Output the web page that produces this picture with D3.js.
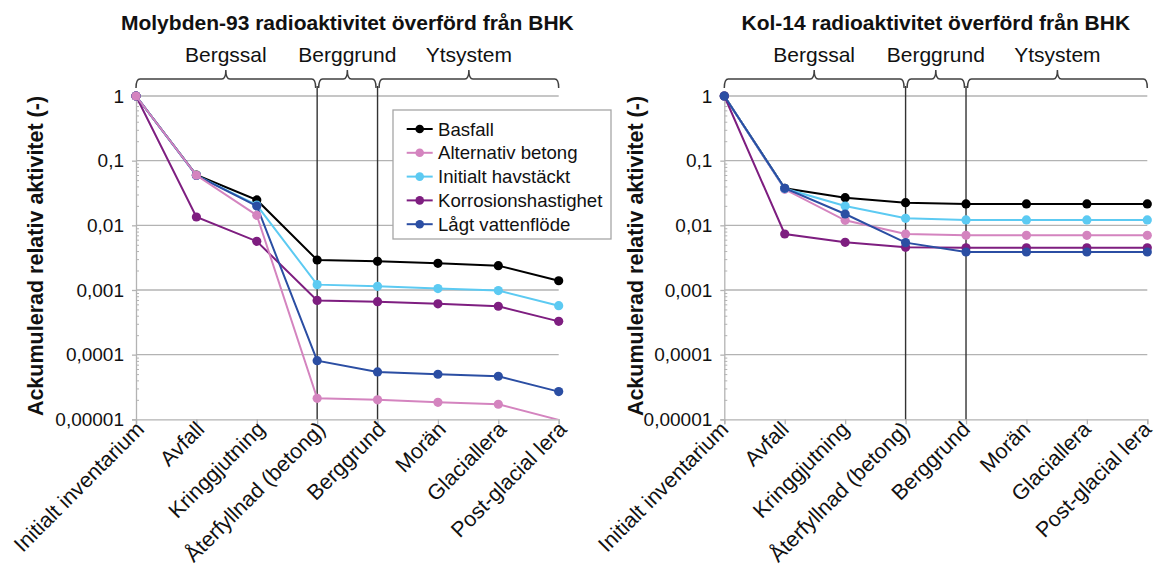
<!DOCTYPE html>
<html>
<head>
<meta charset="utf-8">
<script src="https://cdn.jsdelivr.net/npm/d3@7"></script>
<style>
  html, body { margin: 0; padding: 0; background: #fff; }
  svg { display: block; font-family: "Liberation Sans", Arial, sans-serif; }
</style>
</head>
<body>
<svg id="chart" width="1157" height="567"></svg>
<script>
// ---------------- DATA ----------------
const categories = ["Initialt inventarium", "Avfall", "Kringgjutning", "Återfyllnad (betong)",
                    "Berggrund", "Morän", "Glaciallera", "Post-glacial lera"];
const groupNames = ["Bergssal", "Berggrund", "Ytsystem"];
const groupStart = [0, 3, 4];
const groupEnd = [3, 4, 7];
const dividerIndex = [3, 4];

const seriesNames = ["Basfall", "Alternativ betong", "Initialt havstäckt", "Korrosionshastighet", "Lågt vattenflöde"];

const yTickValues = [1, 0.1, 0.01, 0.001, 0.0001, 0.00001];
const yTickLabels = ["1", "0,1", "0,01", "0,001", "0,0001", "0,00001"];

const chartTitles = ["Molybden-93 radioaktivitet överförd från BHK", "Kol-14 radioaktivitet överförd från BHK"];
const yAxisTitle = "Ackumulerad relativ aktivitet (-)";

// Molybden-93
const mo93Basfall      = [1, 0.060, 0.0247, 0.00291, 0.00277, 0.00258, 0.00238, 0.00139];
const mo93AltBetong    = [1, 0.0595, 0.0143, 0.0000211, 0.0000200, 0.0000183, 0.0000171, 0.0000098];
const mo93Havstackt    = [1, 0.059, 0.0206, 0.00121, 0.00114, 0.00105, 0.00098, 0.000571];
const mo93Korrosion    = [1, 0.01345, 0.00566, 0.00069, 0.00066, 0.00061, 0.00056, 0.000327];
const mo93LagtFlode    = [1, 0.059, 0.0199, 0.0000807, 0.0000540, 0.0000497, 0.0000463, 0.0000268];

// Kol-14
const c14Basfall       = [1, 0.0374, 0.0268, 0.0224, 0.0214, 0.0214, 0.0214, 0.0214];
const c14AltBetong     = [1, 0.036, 0.01195, 0.00734, 0.0070, 0.0070, 0.0070, 0.0070];
const c14Havstackt     = [1, 0.037, 0.0199, 0.01285, 0.0121, 0.0121, 0.0121, 0.0121];
const c14Korrosion     = [1, 0.00734, 0.00546, 0.00457, 0.0045, 0.0045, 0.0045, 0.0045];
const c14LagtFlode     = [1, 0.0374, 0.01497, 0.0054, 0.00387, 0.00387, 0.00387, 0.00387];

// ---------------- STYLE ----------------
const seriesColors = ["#000000", "#d484bf", "#5ccaf2", "#7e1e80", "#2b4ea3"];
const FONT = '"Liberation Sans", Arial, sans-serif';

const svg = d3.select("#chart");

const charts = [
  { title: chartTitles[0], series: [mo93Basfall, mo93AltBetong, mo93Havstackt, mo93Korrosion, mo93LagtFlode],
    order: [0, 2, 3, 4, 1], x0: 136, x1: 558.7, legend: true, yLabelX: 35.5, labelShift: 4 },
  { title: chartTitles[1], series: [c14Basfall, c14AltBetong, c14Havstackt, c14Korrosion, c14LagtFlode],
    order: [0, 1, 2, 3, 4], x0: 724.3, x1: 1147.3, legend: false, yLabelX: 635, labelShift: 0 }
];

const yTop = 96, yBot = 419.3;
const gridColor = "#b3b3b3";

charts.forEach((c, ci) => {
  const g = svg.append("g");
  const x = d3.scalePoint().domain(categories).range([c.x0, c.x1]).padding(0);
  const y = d3.scaleLog().domain([1e-5, 1]).range([yBot, yTop]);

  // clip
  const clipId = "clip" + ci;
  svg.append("defs").append("clipPath").attr("id", clipId)
    .append("rect").attr("x", c.x0 - 6).attr("y", yTop - 6).attr("width", c.x1 - c.x0 + 12).attr("height", yBot - yTop + 6);

  // gridlines
  g.append("g").selectAll("line").data(yTickValues.slice(0, -1)).join("line")
    .attr("x1", c.x0).attr("x2", c.x1)
    .attr("y1", d => y(d)).attr("y2", d => y(d))
    .attr("stroke", gridColor).attr("stroke-width", 1.3);

  // minor ticks on y axis
  const minor = [];
  for (let e = -5; e < 0; e++) for (let m = 2; m <= 9; m++) minor.push(m * Math.pow(10, e));
  const minorAxis = d3.axisRight(y).tickValues(minor).tickSize(3).tickFormat("");
  const ma = g.append("g").attr("transform", `translate(${c.x0},0)`).call(minorAxis);
  ma.select(".domain").remove();
  ma.selectAll("line").attr("stroke", gridColor).attr("stroke-width", 1);

  // y axis
  const yAxis = d3.axisLeft(y).tickValues(yTickValues).tickSize(4).tickPadding(8)
    .tickFormat((d, i) => yTickLabels[i]);
  const ya = g.append("g").attr("transform", `translate(${c.x0},0)`).call(yAxis);
  ya.select(".domain").attr("stroke", gridColor).attr("stroke-width", 1.3);
  ya.selectAll(".tick line").attr("stroke", gridColor).attr("stroke-width", 1.3);
  ya.selectAll(".tick text").attr("font-family", FONT).attr("font-size", 19).attr("fill", "#111");

  // x axis
  const xAxis = d3.axisBottom(x).tickSize(5).tickFormat("");
  const xa = g.append("g").attr("transform", `translate(0,${yBot})`).call(xAxis);
  xa.select(".domain").attr("stroke", gridColor).attr("stroke-width", 1.3);
  xa.selectAll(".tick line").attr("stroke", gridColor).attr("stroke-width", 1.3);

  // x labels rotated
  g.append("g").selectAll("text").data(categories).join("text")
    .attr("transform", d => `translate(${x(d) + c.labelShift},${yBot + 6}) rotate(-45)`)
    .attr("text-anchor", "end").attr("dy", "0.35em")
    .attr("font-family", FONT).attr("font-size", 21.5).attr("fill", "#111")
    .text(d => d);

  // divider lines
  g.append("g").selectAll("line").data(dividerIndex).join("line")
    .attr("x1", d => x(categories[d])).attr("x2", d => x(categories[d]))
    .attr("y1", 86).attr("y2", yBot)
    .attr("stroke", "#333").attr("stroke-width", 1.4);

  // brackets
  const bY = 79, bEnd = 88, bTip = 70;
  groupNames.forEach((name, gi) => {
    const xa1 = x(categories[groupStart[gi]]) + (gi > 0 ? 1.5 : 0);
    const xa2 = x(categories[groupEnd[gi]]) - (gi < groupNames.length - 1 ? 1.5 : 0);
    const xm = (xa1 + xa2) / 2;
    const p = `M${xa1},${bEnd} Q${xa1},${bY} ${xa1 + 4},${bY} H${xm - 4} Q${xm},${bY} ${xm},${bTip} Q${xm},${bY} ${xm + 4},${bY} H${xa2 - 4} Q${xa2},${bY} ${xa2},${bEnd}`;
    g.append("path").attr("d", p).attr("fill", "none").attr("stroke", "#404040").attr("stroke-width", 1.5);
    g.append("text").attr("x", xm).attr("y", 61.5).attr("text-anchor", "middle")
      .attr("font-family", FONT).attr("font-size", 21).attr("fill", "#111").text(name);
  });

  // title
  g.append("text").attr("x", (c.x0 + c.x1) / 2).attr("y", 29.5).attr("text-anchor", "middle")
    .attr("font-family", FONT).attr("font-size", 21).attr("font-weight", "bold").attr("fill", "#111")
    .text(c.title);

  // y axis title
  g.append("text").attr("transform", `translate(${c.yLabelX},${256}) rotate(-90)`)
    .attr("text-anchor", "middle").attr("dy", "0.35em")
    .attr("font-family", FONT).attr("font-size", 21.5).attr("font-weight", "bold").attr("fill", "#111")
    .text(yAxisTitle);

  // series
  const line = d3.line().x((d, i) => x(categories[i])).y(d => y(d));
  const sg = g.append("g").attr("clip-path", `url(#${clipId})`);
  c.order.forEach(si => {
    const vals = c.series[si];
    sg.append("path").attr("d", line(vals)).attr("fill", "none")
      .attr("stroke", seriesColors[si]).attr("stroke-width", 2);
    sg.selectAll(null).data(vals.map((v, i) => ({ v, i })).filter(d => d.v >= 1e-5)).join("circle")
      .attr("cx", d => x(categories[d.i])).attr("cy", d => y(d.v)).attr("r", 4.6)
      .attr("fill", seriesColors[si]);
  });

  // legend
  if (c.legend) {
    const lg = g.append("g");
    lg.append("rect").attr("x", 393).attr("y", 110).attr("width", 218).attr("height", 129)
      .attr("fill", "#fff").attr("stroke", "#a6a6a6").attr("stroke-width", 1.3);
    seriesNames.forEach((n, i) => {
      const ly = 129 + i * 23.8;
      lg.append("line").attr("x1", 406.7).attr("x2", 432.7).attr("y1", ly).attr("y2", ly)
        .attr("stroke", seriesColors[i]).attr("stroke-width", 2);
      lg.append("circle").attr("cx", 419.7).attr("cy", ly).attr("r", 4.3).attr("fill", seriesColors[i]);
      lg.append("text").attr("x", 438).attr("y", ly).attr("dy", "0.35em")
        .attr("font-family", FONT).attr("font-size", 18.6).attr("fill", "#111").text(n);
    });
  }
});
</script>
</body>
</html>
